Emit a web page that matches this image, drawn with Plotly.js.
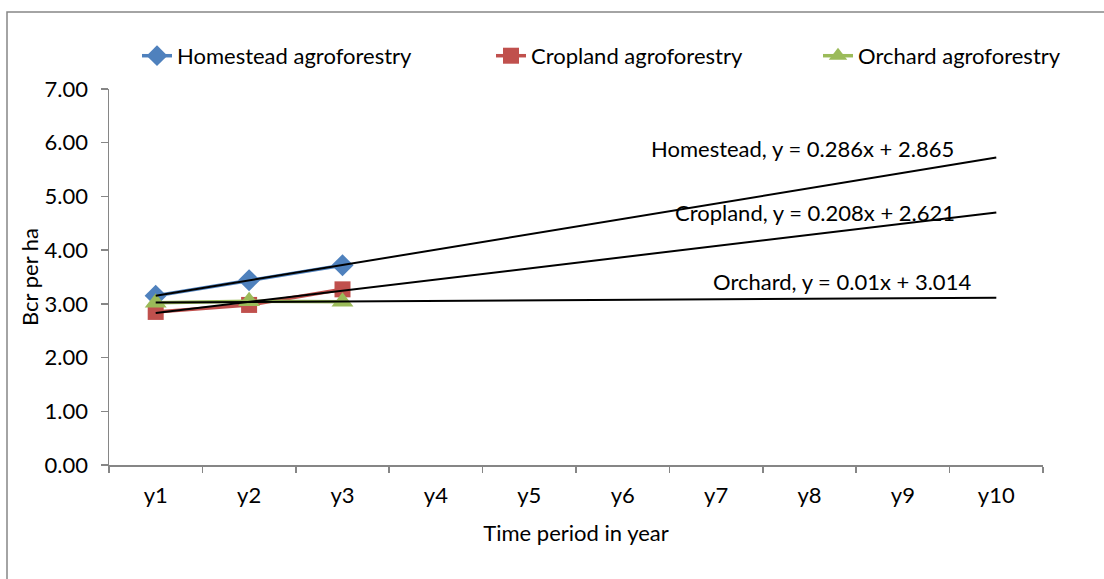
<!DOCTYPE html>
<html>
<head>
<meta charset="utf-8">
<script src="https://cdn.plot.ly/plotly-3.0.1.min.js"></script>
<style>html,body{margin:0;padding:0;background:#fff;} #chart{width:1104px;height:579px;}</style>
</head>
<body>
<div id="chart"></div>
<script>
const categories = ['y1','y2','y3','y4','y5','y6','y7','y8','y9','y10'];
const observedYears = ['y1','y2','y3'];
const homestead = [3.15, 3.44, 3.72];
const cropland = [2.85, 2.98, 3.27];
const orchard = [3.02, 3.05, 3.04];
const seriesNames = ['Homestead agroforestry','Cropland agroforestry','Orchard agroforestry'];
const trendNames = ['Homestead','Cropland','Orchard'];
const trendSlopes = [0.286, 0.208, 0.01];
const trendIntercepts = [2.865, 2.621, 3.014];
const yTicks = [0,1,2,3,4,5,6,7];

const FONT = 'Lato, "Open Sans", sans-serif';
const FS = 22;
const colors = ['#4F81BD','#C0504D','#9BBB59'];
const symbols = ['diamond','square','triangle-up'];
const sizes = [17, 16, 19];
const seriesData = [homestead, cropland, orchard];
const legendIds = ['legend','legend2','legend3'];

const traces = [];
// invisible trace to register all categories
traces.push({x: categories, y: categories.map(()=>null), mode:'lines', showlegend:false, hoverinfo:'skip'});
seriesData.forEach((d,i)=>{
  traces.push({
    x: observedYears, y: d, name: seriesNames[i], type:'scatter', mode:'lines+markers',
    line:{color:colors[i], width:3.5},
    marker:{symbol:symbols[i], size:sizes[i], color:colors[i]},
    legend: legendIds[i]
  });
});
// linear trendlines from stated equations, evaluated at first and last category
const xFirst = 1, xLast = categories.length;
trendSlopes.forEach((m,i)=>{
  traces.push({
    x:[categories[0], categories[categories.length-1]],
    y:[m*xFirst+trendIntercepts[i], m*xLast+trendIntercepts[i]],
    mode:'lines', line:{color:'#000', width:2}, showlegend:false, hoverinfo:'skip'
  });
});

const annPos = [[6.93,5.90],[7.06,4.71],[7.35,3.41]];
const annotations = trendNames.map((n,i)=>({
  x: annPos[i][0], y: annPos[i][1], xref:'x', yref:'y',
  text: n + ', y = ' + trendSlopes[i] + 'x + ' + trendIntercepts[i].toFixed(3),
  showarrow:false, font:{family:FONT, size:FS, color:'#000'}
}));

const legendX = [137, 491, 818];
const plotL = 109, plotW = 934;
const legendCommon = {orientation:'h', yanchor:'middle', y:1.088, xanchor:'left',
  font:{family:FONT, size:FS, color:'#000'}, bgcolor:'rgba(0,0,0,0)'};

const layout = {
  width:1104, height:579,
  margin:{l:109, r:61, t:89, b:114},
  paper_bgcolor:'#fff', plot_bgcolor:'#fff',
  font:{family:FONT, size:FS, color:'#000'},
  xaxis:{
    type:'category', categoryorder:'array', categoryarray:categories,
    range:[-0.5, 9.5], tickson:'boundaries', ticks:'outside', ticklen:6, tickcolor:'#868686', tickwidth:1.5,
    showline:true, linecolor:'#868686', linewidth:1.5, showgrid:false, zeroline:false,
    ticklabelstandoff:10,
    tickfont:{family:FONT, size:FS, color:'#000'},
    title:{text:'Time period in year', font:{family:FONT, size:FS, color:'#000'}, standoff:18}
  },
  yaxis:{
    range:[0,7], tickvals:yTicks, ticktext:yTicks.map(v=>v.toFixed(2)),
    ticks:'outside', ticklen:7, tickcolor:'#868686', tickwidth:1.5,
    showline:true, linecolor:'#868686', linewidth:1.5, showgrid:false, zeroline:false,
    ticklabelstandoff:8,
    tickfont:{family:FONT, size:FS, color:'#000'},
    title:{text:'Bcr per ha', font:{family:FONT, size:FS, color:'#000'}, standoff:0}
  },
  legend: Object.assign({}, legendCommon, {x:(legendX[0]-plotL)/plotW}),
  legend2: Object.assign({}, legendCommon, {x:(legendX[1]-plotL)/plotW}),
  legend3: Object.assign({}, legendCommon, {x:(legendX[2]-plotL)/plotW}),
  annotations: annotations,
  shapes:[{type:'rect', xref:'paper', yref:'paper', x0:(7-plotL)/plotW, x1:1.3, y0:-0.5, y1:(465-12)/376,
    line:{color:'#868686', width:1.5}, fillcolor:'rgba(0,0,0,0)', layer:'below'}]
};
Plotly.newPlot('chart', traces, layout, {displayModeBar:false, staticPlot:true});
</script>
</body>
</html>
